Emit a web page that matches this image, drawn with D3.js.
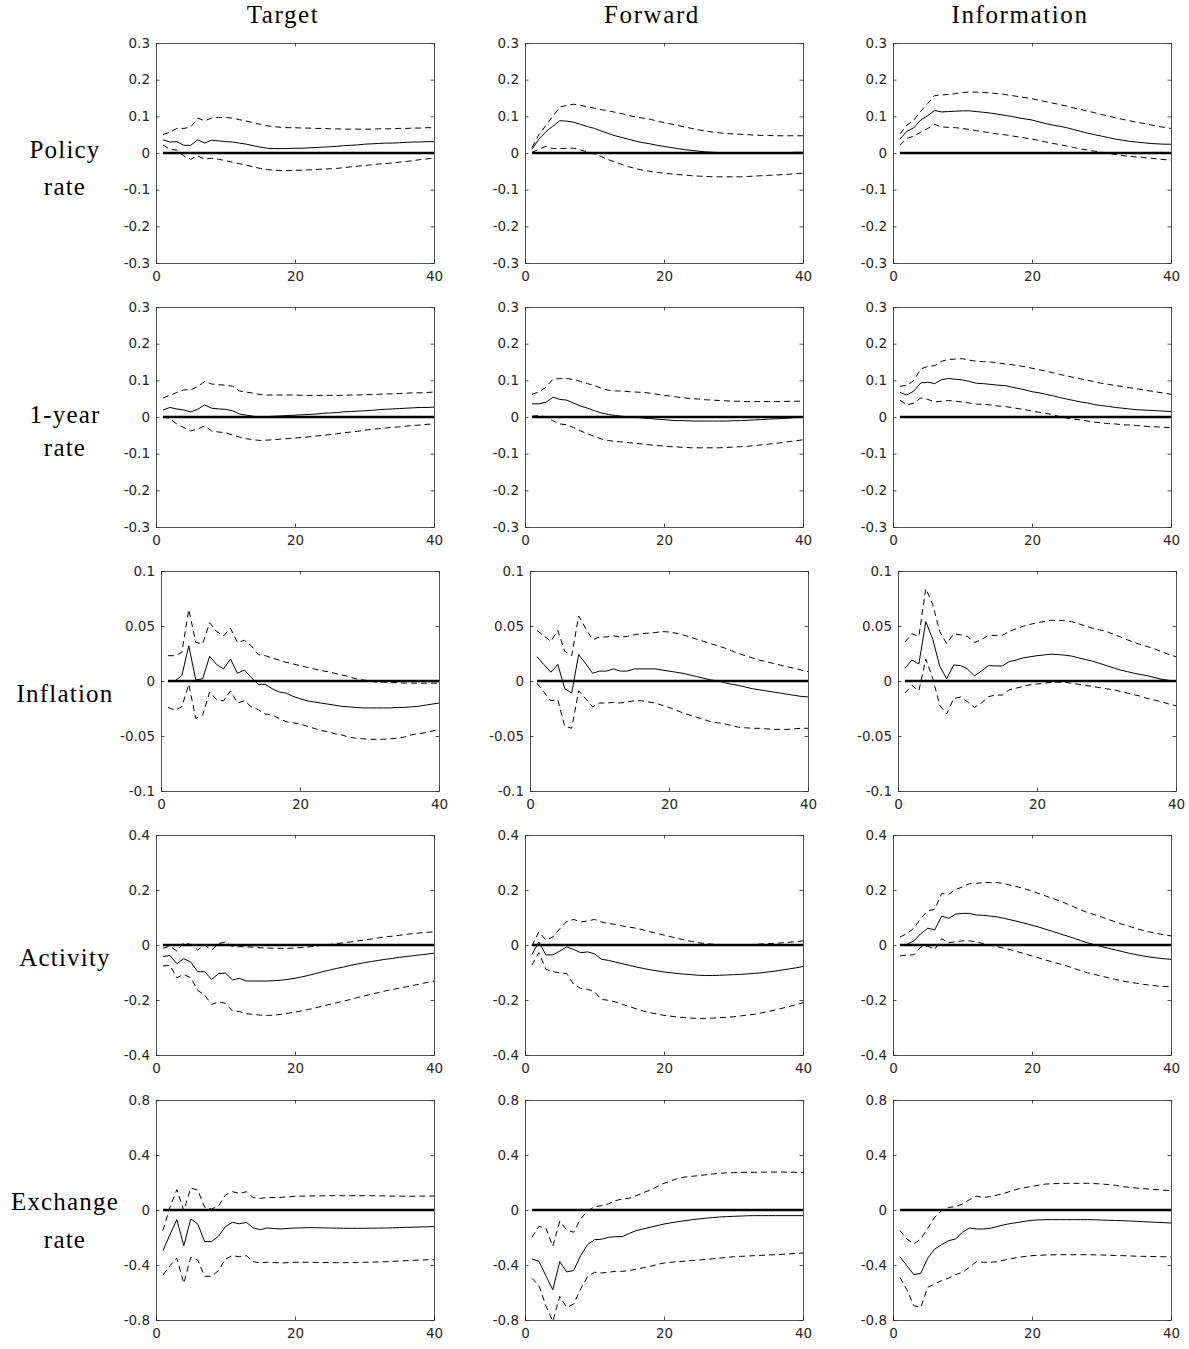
<!DOCTYPE html>
<html><head><meta charset="utf-8">
<script src="https://cdn.jsdelivr.net/npm/d3@7"></script>
<style>body{margin:0;background:#fff}</style>
</head><body>
<svg id="chart" width="1189" height="1349"></svg>
<script>
// ---------- categories / labels ----------
const columnTitles = ["Target", "Forward", "Information"];
const rowLabels = [["Policy", "rate"], ["1-year", "rate"], ["Inflation"], ["Activity"], ["Exchange", "rate"]];
const horizons = d3.range(1, 41);
const xTicks = [0, 20, 40];
const xTickLabels = ["0", "20", "40"];
const yDomains = [[-0.3, 0.3], [-0.3, 0.3], [-0.1, 0.1], [-0.4, 0.4], [-0.8, 0.8]];
const yTickValues = [
  [-0.3, -0.2, -0.1, 0, 0.1, 0.2, 0.3],
  [-0.3, -0.2, -0.1, 0, 0.1, 0.2, 0.3],
  [-0.1, -0.05, 0, 0.05, 0.1],
  [-0.4, -0.2, 0, 0.2, 0.4],
  [-0.8, -0.4, 0, 0.4, 0.8]
];
const yTickLabels = [
  ["-0.3", "-0.2", "-0.1", "0", "0.1", "0.2", "0.3"],
  ["-0.3", "-0.2", "-0.1", "0", "0.1", "0.2", "0.3"],
  ["-0.1", "-0.05", "0", "0.05", "0.1"],
  ["-0.4", "-0.2", "0", "0.2", "0.4"],
  ["-0.8", "-0.4", "0", "0.4", "0.8"]
];

// ---------- Policy rate ----------
const policyTarget = [0.036,0.030,0.031,0.021,0.021,0.036,0.027,0.035,0.033,0.031,0.030,0.027,0.024,0.020,0.016,0.013,0.012,0.012,0.012,0.013,0.013,0.014,0.015,0.016,0.017,0.018,0.020,0.021,0.022,0.024,0.025,0.026,0.027,0.027,0.028,0.029,0.030,0.030,0.031,0.031];
const policyTargetUpper = [0.050,0.057,0.067,0.067,0.071,0.095,0.088,0.095,0.097,0.097,0.095,0.091,0.087,0.083,0.078,0.074,0.072,0.070,0.069,0.069,0.068,0.068,0.067,0.067,0.066,0.066,0.065,0.065,0.065,0.065,0.065,0.066,0.066,0.066,0.067,0.067,0.068,0.068,0.069,0.069];
const policyTargetLower = [0.022,0.010,0.008,-0.008,-0.017,-0.008,-0.017,-0.014,-0.017,-0.021,-0.025,-0.029,-0.033,-0.038,-0.042,-0.045,-0.047,-0.048,-0.048,-0.047,-0.047,-0.046,-0.045,-0.044,-0.043,-0.042,-0.040,-0.038,-0.036,-0.034,-0.032,-0.030,-0.029,-0.027,-0.025,-0.023,-0.021,-0.018,-0.016,-0.014];
const policyForward = [0.010,0.038,0.058,0.073,0.088,0.087,0.084,0.078,0.072,0.067,0.060,0.053,0.047,0.042,0.037,0.032,0.028,0.025,0.021,0.018,0.015,0.012,0.009,0.007,0.005,0.003,0.002,0.001,0.000,0.000,-0.001,-0.001,-0.001,-0.001,0.000,0.000,0.001,0.001,0.002,0.002];
const policyForwardUpper = [0.015,0.050,0.075,0.100,0.125,0.130,0.133,0.130,0.126,0.122,0.118,0.115,0.111,0.107,0.102,0.098,0.095,0.092,0.087,0.083,0.079,0.075,0.071,0.067,0.063,0.060,0.057,0.055,0.053,0.052,0.051,0.050,0.049,0.048,0.048,0.047,0.047,0.047,0.047,0.047];
const policyForwardLower = [0.002,0.010,0.018,0.012,0.012,0.013,0.013,0.008,0.003,-0.003,-0.010,-0.018,-0.025,-0.032,-0.038,-0.043,-0.047,-0.050,-0.053,-0.055,-0.057,-0.059,-0.060,-0.062,-0.063,-0.064,-0.065,-0.065,-0.065,-0.065,-0.065,-0.064,-0.063,-0.062,-0.061,-0.060,-0.059,-0.058,-0.056,-0.055];
const policyInfo = [0.038,0.059,0.069,0.090,0.102,0.116,0.112,0.113,0.114,0.115,0.115,0.113,0.111,0.109,0.106,0.103,0.100,0.096,0.093,0.090,0.085,0.080,0.076,0.073,0.069,0.064,0.059,0.054,0.050,0.046,0.042,0.038,0.035,0.032,0.030,0.028,0.026,0.025,0.024,0.024];
const policyInfoUpper = [0.052,0.076,0.090,0.114,0.135,0.157,0.158,0.160,0.162,0.165,0.166,0.166,0.165,0.164,0.162,0.160,0.157,0.154,0.151,0.148,0.144,0.140,0.136,0.132,0.128,0.123,0.119,0.114,0.110,0.105,0.101,0.096,0.092,0.088,0.084,0.081,0.077,0.073,0.070,0.067];
const policyInfoLower = [0.021,0.040,0.046,0.057,0.067,0.078,0.071,0.070,0.069,0.067,0.064,0.061,0.058,0.055,0.052,0.050,0.047,0.044,0.041,0.038,0.034,0.030,0.026,0.023,0.019,0.015,0.011,0.008,0.005,0.002,-0.001,-0.004,-0.007,-0.009,-0.011,-0.012,-0.014,-0.016,-0.018,-0.019];

// ---------- 1-year rate ----------
const yearTarget = [0.019,0.026,0.022,0.019,0.014,0.021,0.033,0.024,0.022,0.021,0.017,0.008,0.005,0.002,0.000,0.001,0.002,0.003,0.004,0.005,0.006,0.007,0.008,0.010,0.011,0.012,0.014,0.015,0.016,0.017,0.018,0.020,0.021,0.022,0.023,0.024,0.025,0.026,0.026,0.027];
const yearTargetUpper = [0.052,0.059,0.067,0.074,0.074,0.083,0.097,0.090,0.088,0.087,0.084,0.071,0.068,0.065,0.061,0.060,0.060,0.060,0.060,0.060,0.059,0.059,0.059,0.059,0.059,0.059,0.059,0.060,0.060,0.061,0.061,0.062,0.063,0.063,0.064,0.065,0.066,0.066,0.067,0.068];
const yearTargetLower = [0.002,-0.005,-0.019,-0.029,-0.038,-0.033,-0.024,-0.038,-0.041,-0.043,-0.049,-0.055,-0.059,-0.062,-0.064,-0.063,-0.062,-0.060,-0.059,-0.057,-0.056,-0.054,-0.052,-0.050,-0.048,-0.046,-0.043,-0.041,-0.039,-0.036,-0.034,-0.032,-0.030,-0.028,-0.027,-0.025,-0.023,-0.022,-0.020,-0.019];
const yearForward = [0.036,0.036,0.040,0.054,0.048,0.046,0.038,0.030,0.024,0.017,0.011,0.007,0.004,0.002,0.000,-0.001,-0.003,-0.004,-0.006,-0.007,-0.009,-0.010,-0.010,-0.011,-0.011,-0.011,-0.011,-0.011,-0.011,-0.010,-0.010,-0.009,-0.008,-0.007,-0.006,-0.005,-0.004,-0.003,-0.001,0.000];
const yearForwardUpper = [0.062,0.068,0.081,0.103,0.105,0.105,0.102,0.097,0.091,0.086,0.078,0.073,0.071,0.071,0.069,0.068,0.067,0.065,0.062,0.059,0.057,0.054,0.052,0.050,0.049,0.047,0.046,0.045,0.044,0.043,0.043,0.042,0.042,0.042,0.042,0.042,0.042,0.043,0.043,0.043];
const yearForwardLower = [0.002,0.004,0.000,-0.010,-0.019,-0.021,-0.029,-0.038,-0.046,-0.053,-0.060,-0.064,-0.067,-0.068,-0.070,-0.072,-0.074,-0.076,-0.078,-0.079,-0.081,-0.082,-0.083,-0.084,-0.084,-0.084,-0.084,-0.084,-0.083,-0.082,-0.081,-0.080,-0.078,-0.076,-0.074,-0.072,-0.070,-0.067,-0.065,-0.062];
const yearInfo = [0.067,0.060,0.071,0.093,0.095,0.091,0.102,0.105,0.103,0.101,0.097,0.092,0.091,0.089,0.087,0.086,0.082,0.078,0.074,0.069,0.066,0.062,0.058,0.053,0.049,0.045,0.041,0.038,0.034,0.031,0.029,0.026,0.024,0.022,0.020,0.019,0.018,0.017,0.016,0.015];
const yearInfoUpper = [0.084,0.086,0.100,0.131,0.138,0.140,0.152,0.157,0.158,0.159,0.155,0.152,0.151,0.150,0.148,0.145,0.143,0.140,0.137,0.133,0.129,0.125,0.121,0.116,0.112,0.108,0.104,0.100,0.096,0.092,0.089,0.086,0.083,0.080,0.077,0.074,0.071,0.068,0.065,0.062];
const yearInfoLower = [0.046,0.033,0.038,0.052,0.048,0.041,0.043,0.045,0.043,0.041,0.038,0.035,0.035,0.033,0.030,0.029,0.026,0.023,0.020,0.016,0.013,0.010,0.006,0.001,-0.003,-0.006,-0.008,-0.011,-0.014,-0.016,-0.018,-0.019,-0.021,-0.022,-0.023,-0.025,-0.026,-0.027,-0.028,-0.029];

// ---------- Inflation ----------
const inflTarget = [0.000,0.000,0.005,0.032,0.001,0.002,0.0225,0.015,0.011,0.020,0.007,0.010,0.003,-0.003,-0.003,-0.007,-0.010,-0.011,-0.014,-0.016,-0.018,-0.019,-0.020,-0.021,-0.022,-0.023,-0.0235,-0.024,-0.0245,-0.0245,-0.0245,-0.0245,-0.0245,-0.024,-0.024,-0.0235,-0.023,-0.022,-0.021,-0.020];
const inflTargetUpper = [0.023,0.023,0.026,0.065,0.035,0.034,0.053,0.045,0.041,0.048,0.035,0.037,0.032,0.024,0.023,0.021,0.019,0.017,0.0155,0.014,0.0125,0.011,0.0095,0.0085,0.007,0.0055,0.004,0.002,0.001,0.000,-0.001,-0.001,-0.0015,-0.0015,-0.002,-0.002,-0.002,-0.002,-0.002,-0.002];
const inflTargetLower = [-0.024,-0.0265,-0.0235,-0.003,-0.034,-0.031,-0.010,-0.017,-0.018,-0.009,-0.020,-0.018,-0.0235,-0.026,-0.030,-0.031,-0.034,-0.037,-0.038,-0.039,-0.041,-0.043,-0.045,-0.046,-0.048,-0.049,-0.051,-0.052,-0.0525,-0.053,-0.053,-0.053,-0.0525,-0.052,-0.051,-0.049,-0.048,-0.047,-0.0455,-0.044];
const inflForward = [0.022,0.015,0.008,0.015,-0.007,-0.011,0.024,0.016,0.007,0.009,0.009,0.011,0.009,0.009,0.011,0.011,0.011,0.011,0.010,0.009,0.008,0.007,0.0055,0.004,0.0025,0.001,0.000,-0.0015,-0.003,-0.004,-0.0055,-0.007,-0.008,-0.009,-0.010,-0.011,-0.012,-0.013,-0.014,-0.0145];
const inflForwardUpper = [0.046,0.041,0.036,0.046,0.027,0.023,0.059,0.048,0.0375,0.040,0.040,0.041,0.040,0.0405,0.042,0.043,0.0435,0.044,0.045,0.0445,0.0435,0.042,0.040,0.038,0.036,0.034,0.032,0.030,0.0275,0.025,0.023,0.021,0.019,0.0175,0.016,0.0145,0.013,0.0115,0.010,0.0085];
const inflForwardLower = [-0.002,-0.010,-0.018,-0.017,-0.041,-0.043,-0.009,-0.016,-0.0235,-0.020,-0.020,-0.0195,-0.020,-0.019,-0.018,-0.018,-0.019,-0.020,-0.022,-0.024,-0.0265,-0.029,-0.031,-0.033,-0.035,-0.037,-0.038,-0.039,-0.0405,-0.042,-0.0425,-0.043,-0.043,-0.0435,-0.044,-0.044,-0.044,-0.0435,-0.043,-0.043];
const inflInfo = [0.0116,0.019,0.0155,0.054,0.038,0.0137,0.002,0.0146,0.014,0.011,0.0046,0.009,0.014,0.0137,0.0137,0.0177,0.019,0.021,0.022,0.023,0.0237,0.0244,0.024,0.0235,0.0226,0.021,0.0195,0.018,0.016,0.014,0.012,0.010,0.0085,0.007,0.0058,0.0046,0.003,0.0015,0.0005,-0.0006];
const inflInfoUpper = [0.0354,0.043,0.0405,0.084,0.0695,0.045,0.034,0.0427,0.042,0.0405,0.035,0.0375,0.0415,0.0415,0.0415,0.045,0.0475,0.0497,0.0515,0.053,0.054,0.0552,0.0552,0.0548,0.054,0.052,0.050,0.048,0.0465,0.045,0.0425,0.040,0.0375,0.035,0.033,0.031,0.029,0.0265,0.024,0.022];
const inflInfoLower = [-0.011,-0.004,-0.009,0.020,0.0024,-0.022,-0.030,-0.016,-0.0146,-0.019,-0.024,-0.020,-0.0143,-0.0128,-0.0128,-0.008,-0.0065,-0.005,-0.0035,-0.0027,-0.002,-0.0012,-0.001,-0.0012,-0.002,-0.003,-0.004,-0.005,-0.006,-0.007,-0.008,-0.0095,-0.011,-0.0125,-0.014,-0.016,-0.0175,-0.019,-0.021,-0.0225];

// ---------- Activity ----------
const actTarget = [-0.042,-0.038,-0.068,-0.050,-0.062,-0.097,-0.097,-0.125,-0.104,-0.102,-0.127,-0.121,-0.131,-0.131,-0.131,-0.131,-0.130,-0.128,-0.125,-0.121,-0.116,-0.110,-0.104,-0.097,-0.091,-0.085,-0.080,-0.074,-0.069,-0.064,-0.060,-0.056,-0.052,-0.049,-0.045,-0.042,-0.039,-0.036,-0.033,-0.030];
const actTargetUpper = [-0.012,-0.004,-0.022,0.008,0.002,-0.018,0.000,-0.019,0.005,0.011,-0.006,-0.006,-0.007,-0.008,-0.010,-0.011,-0.012,-0.012,-0.012,-0.011,-0.009,-0.007,-0.004,-0.001,0.002,0.005,0.008,0.011,0.015,0.018,0.022,0.026,0.030,0.032,0.035,0.039,0.041,0.044,0.046,0.048];
const actTargetLower = [-0.076,-0.074,-0.119,-0.107,-0.119,-0.165,-0.182,-0.216,-0.207,-0.212,-0.240,-0.242,-0.250,-0.252,-0.255,-0.256,-0.255,-0.252,-0.248,-0.244,-0.239,-0.234,-0.228,-0.222,-0.216,-0.210,-0.204,-0.198,-0.191,-0.185,-0.179,-0.173,-0.167,-0.162,-0.157,-0.152,-0.147,-0.142,-0.136,-0.131];
const actForward = [-0.034,0.011,-0.036,-0.036,-0.022,-0.007,-0.016,-0.028,-0.025,-0.032,-0.052,-0.056,-0.062,-0.068,-0.074,-0.080,-0.085,-0.090,-0.094,-0.098,-0.101,-0.104,-0.106,-0.108,-0.110,-0.111,-0.111,-0.110,-0.109,-0.108,-0.107,-0.105,-0.103,-0.101,-0.098,-0.095,-0.091,-0.087,-0.083,-0.078];
const actForwardUpper = [-0.004,0.048,0.018,0.029,0.059,0.085,0.093,0.084,0.087,0.093,0.084,0.078,0.075,0.069,0.065,0.061,0.055,0.048,0.042,0.036,0.030,0.024,0.018,0.013,0.008,0.005,0.003,0.002,0.001,0.000,0.000,0.001,0.002,0.004,0.005,0.006,0.008,0.010,0.012,0.015];
const actForwardLower = [-0.073,-0.028,-0.088,-0.097,-0.101,-0.104,-0.143,-0.158,-0.161,-0.170,-0.198,-0.201,-0.207,-0.216,-0.224,-0.232,-0.240,-0.246,-0.251,-0.256,-0.259,-0.262,-0.264,-0.266,-0.267,-0.267,-0.266,-0.264,-0.263,-0.261,-0.258,-0.255,-0.252,-0.247,-0.242,-0.236,-0.230,-0.224,-0.217,-0.210];
const actInfo = [-0.001,0.002,0.015,0.041,0.061,0.055,0.105,0.097,0.112,0.115,0.115,0.109,0.108,0.105,0.102,0.097,0.091,0.085,0.079,0.072,0.065,0.057,0.049,0.041,0.033,0.025,0.016,0.008,0.001,-0.006,-0.012,-0.018,-0.024,-0.030,-0.035,-0.040,-0.044,-0.047,-0.050,-0.052];
const actInfoUpper = [0.029,0.041,0.061,0.097,0.124,0.130,0.187,0.184,0.202,0.211,0.223,0.224,0.227,0.227,0.227,0.223,0.217,0.211,0.204,0.196,0.187,0.178,0.169,0.160,0.150,0.139,0.128,0.118,0.110,0.102,0.093,0.084,0.075,0.068,0.060,0.053,0.047,0.042,0.037,0.033];
const actInfoLower = [-0.040,-0.036,-0.036,-0.007,-0.004,-0.016,0.023,0.008,0.012,0.015,0.015,0.012,0.005,-0.001,-0.006,-0.012,-0.018,-0.025,-0.032,-0.040,-0.047,-0.055,-0.062,-0.069,-0.076,-0.085,-0.093,-0.101,-0.107,-0.113,-0.119,-0.125,-0.131,-0.135,-0.139,-0.143,-0.146,-0.149,-0.151,-0.152];

// ---------- Exchange rate ----------
const fxTarget = [-0.296,-0.18,-0.07,-0.26,-0.065,-0.10,-0.23,-0.23,-0.19,-0.12,-0.09,-0.10,-0.09,-0.13,-0.143,-0.13,-0.135,-0.138,-0.134,-0.131,-0.13,-0.128,-0.129,-0.130,-0.131,-0.132,-0.133,-0.133,-0.133,-0.133,-0.132,-0.132,-0.131,-0.130,-0.128,-0.126,-0.125,-0.123,-0.122,-0.121];
const fxTargetUpper = [-0.15,0.02,0.148,-0.005,0.16,0.145,0.02,0.007,0.03,0.11,0.133,0.121,0.133,0.09,0.085,0.09,0.091,0.092,0.096,0.10,0.101,0.102,0.103,0.103,0.104,0.104,0.104,0.104,0.104,0.104,0.104,0.103,0.102,0.101,0.101,0.10,0.10,0.101,0.101,0.102];
const fxTargetLower = [-0.473,-0.405,-0.35,-0.533,-0.344,-0.364,-0.482,-0.482,-0.44,-0.356,-0.332,-0.34,-0.332,-0.376,-0.385,-0.38,-0.382,-0.385,-0.383,-0.38,-0.38,-0.38,-0.381,-0.382,-0.383,-0.383,-0.383,-0.383,-0.382,-0.38,-0.379,-0.378,-0.376,-0.374,-0.371,-0.368,-0.366,-0.364,-0.362,-0.361];
const fxForward = [-0.356,-0.373,-0.478,-0.58,-0.376,-0.45,-0.44,-0.332,-0.252,-0.216,-0.213,-0.199,-0.194,-0.194,-0.17,-0.15,-0.138,-0.126,-0.114,-0.102,-0.093,-0.085,-0.078,-0.071,-0.065,-0.060,-0.055,-0.051,-0.048,-0.046,-0.044,-0.042,-0.041,-0.041,-0.041,-0.041,-0.041,-0.041,-0.041,-0.041];
const fxForwardUpper = [-0.199,-0.119,-0.131,-0.264,-0.082,-0.145,-0.162,-0.065,-0.007,0.024,0.031,0.044,0.068,0.08,0.085,0.104,0.125,0.145,0.17,0.194,0.212,0.23,0.24,0.245,0.25,0.256,0.262,0.267,0.27,0.272,0.273,0.274,0.274,0.275,0.276,0.276,0.276,0.275,0.274,0.272];
const fxForwardLower = [-0.497,-0.55,-0.696,-0.81,-0.628,-0.708,-0.684,-0.575,-0.485,-0.453,-0.458,-0.453,-0.446,-0.446,-0.441,-0.43,-0.42,-0.41,-0.397,-0.385,-0.38,-0.376,-0.372,-0.368,-0.364,-0.359,-0.355,-0.35,-0.345,-0.34,-0.337,-0.335,-0.332,-0.33,-0.327,-0.325,-0.322,-0.319,-0.316,-0.313];
const fxInfo = [-0.34,-0.405,-0.47,-0.46,-0.35,-0.284,-0.252,-0.223,-0.211,-0.162,-0.131,-0.138,-0.138,-0.133,-0.121,-0.107,-0.098,-0.09,-0.082,-0.075,-0.072,-0.07,-0.07,-0.07,-0.07,-0.07,-0.07,-0.07,-0.071,-0.073,-0.075,-0.076,-0.078,-0.080,-0.082,-0.085,-0.087,-0.090,-0.092,-0.095];
const fxInfoUpper = [-0.15,-0.211,-0.247,-0.211,-0.133,-0.053,-0.005,0.019,0.024,0.044,0.075,0.10,0.092,0.097,0.109,0.121,0.138,0.153,0.163,0.172,0.181,0.189,0.191,0.193,0.194,0.194,0.194,0.194,0.192,0.189,0.185,0.18,0.17,0.165,0.16,0.155,0.152,0.148,0.144,0.141];
const fxInfoLower = [-0.49,-0.58,-0.696,-0.708,-0.562,-0.538,-0.514,-0.495,-0.47,-0.453,-0.417,-0.376,-0.38,-0.38,-0.376,-0.364,-0.354,-0.344,-0.338,-0.332,-0.33,-0.327,-0.326,-0.325,-0.325,-0.325,-0.325,-0.325,-0.326,-0.327,-0.329,-0.331,-0.332,-0.334,-0.336,-0.337,-0.338,-0.339,-0.34,-0.34];

// ---------- table built from the arrays ----------
const panels = [
  [[policyTarget, policyTargetUpper, policyTargetLower], [policyForward, policyForwardUpper, policyForwardLower], [policyInfo, policyInfoUpper, policyInfoLower]],
  [[yearTarget, yearTargetUpper, yearTargetLower], [yearForward, yearForwardUpper, yearForwardLower], [yearInfo, yearInfoUpper, yearInfoLower]],
  [[inflTarget, inflTargetUpper, inflTargetLower], [inflForward, inflForwardUpper, inflForwardLower], [inflInfo, inflInfoUpper, inflInfoLower]],
  [[actTarget, actTargetUpper, actTargetLower], [actForward, actForwardUpper, actForwardLower], [actInfo, actInfoUpper, actInfoLower]],
  [[fxTarget, fxTargetUpper, fxTargetLower], [fxForward, fxForwardUpper, fxForwardLower], [fxInfo, fxInfoUpper, fxInfoLower]]
];

// ---------- layout ----------
const rowTop = [43, 307, 571, 835, 1100];
const panelH = 220;
const colLeft = [156, 525, 893];
const rowShift = [0, 0, 5, 0, 0];
const panelW = 278;
const titleOffset = -12;
const labelCenters = [[152, 187], [417, 448], [694], [960], [1204, 1240]];
const tickFont = "'DejaVu Sans', 'Liberation Sans', Arial, sans-serif";
const serifFont = "'Liberation Serif', 'Times New Roman', serif";
const axisColor = "#262626";

const svg = d3.select("#chart");
const defs = svg.append("defs");

// column titles
columnTitles.forEach((t, j) => {
  svg.append("text")
    .attr("x", colLeft[j] + panelW / 2 + titleOffset)
    .attr("y", 23)
    .attr("text-anchor", "middle")
    .attr("font-family", serifFont)
    .attr("font-size", 25)
    .attr("letter-spacing", 1.6)
    .attr("fill", "#000")
    .text(t);
});

// row labels
rowLabels.forEach((lines, i) => {
  lines.forEach((ln, k) => {
    const hasDesc = /[gyp]/.test(ln);
    const hasCap = /[A-Z0-9]/.test(ln) || /[ltfhk]/.test(ln);
    const off = hasDesc ? 5.5 : (hasCap ? 8 : 6);
    svg.append("text")
      .attr("x", 65)
      .attr("y", labelCenters[i][k] + off)
      .attr("text-anchor", "middle")
      .attr("font-family", serifFont)
      .attr("font-size", 25)
      .attr("letter-spacing", 1.2)
      .attr("fill", "#000")
      .text(ln);
  });
});

const tickLen = 3.5;

panels.forEach((row, i) => {
  row.forEach((series, j) => {
    const left = colLeft[j] + rowShift[i];
    const top = rowTop[i];
    const g = svg.append("g").attr("transform", `translate(${left},${top})`);
    const x = d3.scaleLinear().domain([0, 40]).range([0, panelW]);
    const y = d3.scaleLinear().domain(yDomains[i]).range([panelH, 0]);

    const clipId = `clip-${i}-${j}`;
    defs.append("clipPath").attr("id", clipId)
      .append("rect").attr("x", 0).attr("y", 0).attr("width", panelW).attr("height", panelH);

    // axes (MATLAB-like box with inward ticks)
    const yl = d3.axisLeft(y).tickValues(yTickValues[i])
      .tickFormat((d, k) => yTickLabels[i][k]).tickSizeInner(-tickLen).tickSizeOuter(0).tickPadding(6);
    const yr = d3.axisRight(y).tickValues(yTickValues[i]).tickFormat("").tickSizeInner(-tickLen).tickSizeOuter(0);
    const xb = d3.axisBottom(x).tickValues(xTicks)
      .tickFormat((d, k) => xTickLabels[k]).tickSizeInner(-tickLen).tickSizeOuter(0).tickPadding(8);
    const xt = d3.axisTop(x).tickValues(xTicks).tickFormat("").tickSizeInner(-tickLen).tickSizeOuter(0);

    const axes = [
      g.append("g").call(yl),
      g.append("g").attr("transform", `translate(${panelW},0)`).call(yr),
      g.append("g").attr("transform", `translate(0,${panelH})`).call(xb),
      g.append("g").call(xt)
    ];
    axes.forEach(a => {
      a.attr("font-family", tickFont).attr("font-size", 13.5);
      a.selectAll("path.domain").attr("stroke", axisColor).attr("stroke-width", 0.8);
      a.selectAll(".tick line").attr("stroke", axisColor).attr("stroke-width", 0.8);
      a.selectAll(".tick text").attr("fill", axisColor);
    });

    const plot = g.append("g").attr("clip-path", `url(#${clipId})`);
    const line = d3.line().x((d, k) => x(horizons[k])).y(d => y(d));

    const [irf, upper, lower] = series;
    plot.append("path").datum(upper).attr("d", line)
      .attr("fill", "none").attr("stroke", "#000").attr("stroke-width", 1).attr("stroke-dasharray", "6,4");
    plot.append("path").datum(lower).attr("d", line)
      .attr("fill", "none").attr("stroke", "#000").attr("stroke-width", 1).attr("stroke-dasharray", "6,4");
    plot.append("path").datum(irf).attr("d", line)
      .attr("fill", "none").attr("stroke", "#000").attr("stroke-width", 1);
    // zero reference line over the horizon range
    plot.append("line")
      .attr("x1", x(horizons[0])).attr("x2", x(horizons[horizons.length - 1]))
      .attr("y1", y(0)).attr("y2", y(0))
      .attr("stroke", "#000").attr("stroke-width", 2.5);
  });
});
</script>
</body></html>
